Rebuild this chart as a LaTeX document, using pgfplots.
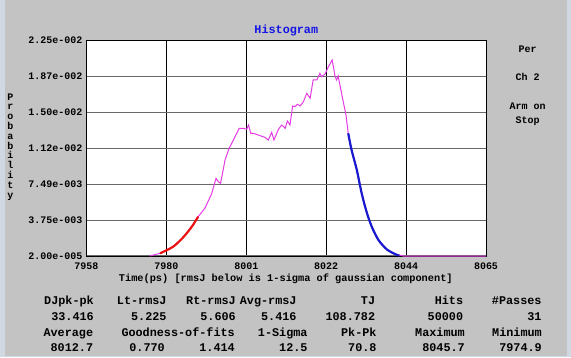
\documentclass[border=0pt]{standalone}
\usepackage{pgfplots}
\pgfplotsset{compat=1.18}
\usepackage{fontspec}
\setmonofont{Liberation Mono}
\definecolor{bg}{RGB}{195,195,195}
\definecolor{edgec}{RGB}{208,216,226}
\definecolor{hgrid}{RGB}{105,105,105}
\definecolor{mag}{RGB}{228,60,228}
\definecolor{redc}{RGB}{235,20,20}
\definecolor{bluec}{RGB}{25,25,205}
\definecolor{titleblue}{RGB}{20,20,230}
\newcommand{\tf}[1]{\ttfamily\bfseries\fontsize{#1}{#1}\selectfont}
\begin{document}
\begin{tikzpicture}[x=1pt,y=1pt]
\useasboundingbox (0,0) rectangle (571,357);
\fill[bg] (0,0) rectangle (571,357);
\fill[edgec] (0,0) rectangle (4.5,357);
\fill[edgec] (567,0) rectangle (571,357);
\fill[edgec] (0,0) rectangle (571,1.5);
\begin{axis}[
  at={(86.5pt,101pt)}, anchor=south west,
  scale only axis, width=399.5pt, height=215.3pt,
  xmin=7958, xmax=8065, ymin=0.00002, ymax=0.0225,
  scaled y ticks=false, scaled x ticks=false,
  axis background/.style={fill=white},
  clip=false,
  xtick={7958,7979.4,8000.8,8022.2,8043.6,8065},
  xticklabels={7958,7980,8001,8022,8044,8065},
  ytick={0.00002,0.0037667,0.0075133,0.01126,0.0150067,0.0187533,0.0225},
  yticklabels={2.00e-005,3.75e-003,7.49e-003,1.12e-002,1.50e-002,1.87e-002,2.25e-002},
  major tick length=0pt,
  xmajorgrids, ymajorgrids,
  x grid style={black, line width=0.8pt},
  y grid style={hgrid, line width=1.2pt},
  axis line style={black, line width=1pt},
  xticklabel style={font=\tf{10}, anchor=center, yshift=-10.7pt, inner sep=0pt},
  yticklabel style={font=\tf{10}, anchor=east, xshift=-3.8pt, inner sep=0pt},
]
\addplot[mag, line width=1pt] coordinates {
(7974.9,0.00002) (7977.7,0.00030) (7981.2,0.00099) (7983.9,0.00197)
(7986.2,0.00308) (7987.9,0.00412) (7989.7,0.00500) (7991.5,0.00650)
(7992.7,0.00813) (7993.3,0.00778) (7993.9,0.00761) (7994.6,0.00900)
(7995.1,0.01004) (7996.2,0.01127) (7996.9,0.01179) (7997.8,0.01248)
(7998.9,0.01335) (8000.0,0.01335) (8000.9,0.01325) (8001.4,0.01370)
(8002.0,0.01283) (8002.7,0.01283) (8004.0,0.01265) (8005.8,0.01241)
(8006.7,0.01213) (8007.6,0.01294) (8008.2,0.01213) (8009.4,0.01325)
(8010.3,0.01370) (8011.2,0.01335) (8011.8,0.01412) (8012.5,0.01370)
(8013.2,0.01568) (8013.8,0.01561) (8014.5,0.01586) (8015.2,0.01568)
(8016.1,0.01613) (8017.0,0.01701) (8017.9,0.01649) (8018.7,0.01840)
(8019.7,0.01840) (8020.5,0.01910) (8021.0,0.01874) (8021.9,0.01902)
(8022.8,0.01979) (8023.8,0.02048) (8024.6,0.01874) (8025.0,0.01840)
(8025.4,0.01881) (8026.4,0.01683) (8027.5,0.01474) (8028.1,0.01283)
(8029.0,0.01109) (8030.4,0.00900) (8031.7,0.00657) (8033.0,0.00465)
(8034.4,0.00308) (8036.2,0.00169) (8038.4,0.00072) (8040.6,0.00023)
(8042.8,0.00002) (8065.0,0.00002)
};
\addplot[redc, line width=2.2pt, smooth] coordinates {
(7977.7,0.00030) (7981.2,0.00099) (7983.9,0.00197) (7986.2,0.00308) (7987.9,0.00412)
};
\addplot[bluec, line width=2.2pt, smooth] coordinates {
(8028.1,0.01283) (8029.0,0.01109) (8030.4,0.00900) (8031.7,0.00657)
(8033.0,0.00465) (8034.4,0.00308) (8036.2,0.00169) (8038.4,0.00072)
(8040.6,0.00023) (8041.8,0.00005)
};
\end{axis}
% title and labels
\node[font=\tf{11.8}, text=titleblue] at (286.3,327) {Histogram};
\node[font=\tf{10.3}] at (285.8,78.7) {Time(ps) [rmsJ below is 1-sigma of gaussian component]};
\node[font=\tf{10}, align=center] at (527.5,308) {Per};
\node[font=\tf{10}, align=center] at (527.5,279.7) {Ch 2};
\node[font=\tf{10}, align=center] at (527.5,251) {Arm on};
\node[font=\tf{10}, align=center] at (527.5,236.3) {Stop};
% stacked y label
\foreach \ch [count=\i from 0] in {P,r,o,b,a,b,i,l,i,t,y} {
  \node[font=\tf{10}, anchor=base, inner sep=0pt] at (10.5,{357-96.7-3.3-\i*9.83}) {\ch};
}
% statistics table
\begin{scope}[every node/.style={font=\tf{11.8}, anchor=base east, inner sep=0pt}]
\node at (94,52.8) {DJpk-pk};
\node at (166.7,52.8) {Lt-rmsJ};
\node at (236,52.8) {Rt-rmsJ};
\node at (296.7,52.8) {Avg-rmsJ};
\node at (375.3,52.8) {TJ};
\node at (463.3,52.8) {Hits};
\node at (541.7,52.8) {\#Passes};
\node at (94,36.8) {33.416};
\node at (166.7,36.8) {5.225};
\node at (236,36.8) {5.606};
\node at (296.7,36.8) {5.416};
\node at (375.3,36.8) {108.782};
\node at (463.3,36.8) {50000};
\node at (541.7,36.8) {31};
\node at (93.3,20.8) {Average};
\node at (235,20.8) {Goodness-of-fits};
\node at (307.7,20.8) {1-Sigma};
\node at (376.7,20.8) {Pk-Pk};
\node at (465,20.8) {Maximum};
\node at (542,20.8) {Minimum};
\node at (93.3,5.2) {8012.7};
\node at (165,5.2) {0.770};
\node at (235,5.2) {1.414};
\node at (307.7,5.2) {12.5};
\node at (376.7,5.2) {70.8};
\node at (465,5.2) {8045.7};
\node at (542,5.2) {7974.9};
\end{scope}
\end{tikzpicture}
\end{document}
